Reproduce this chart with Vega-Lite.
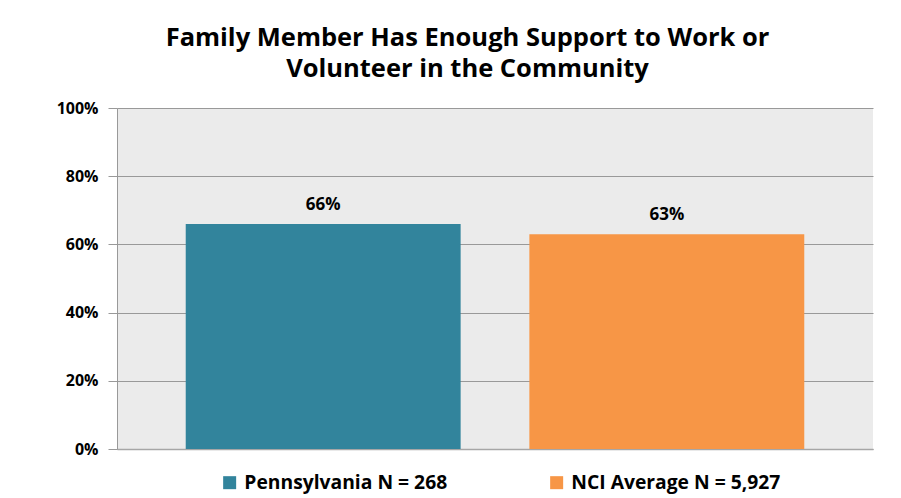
{
  "$schema": "https://vega.github.io/schema/vega-lite/v6.json",
  "width": 756,
  "height": 341,
  "autosize": {"type": "none"},
  "padding": {"left": 117, "top": 108, "right": 28, "bottom": 49},
  "background": "white",
  "title": {
    "text": ["Family Member Has Enough Support to Work or", "Volunteer in the Community"],
    "font": "Open Sans",
    "fontWeight": "bold",
    "fontSize": 25.5,
    "lineHeight": 31,
    "color": "#000000",
    "anchor": "middle",
    "dx": -27.5,
    "offset": 18
  },
  "data": {
    "values": [
      {"group": "Pennsylvania N = 268", "value": 0.66, "label": "66%"},
      {"group": "NCI Average N = 5,927", "value": 0.63, "label": "63%"}
    ]
  },
  "encoding": {
    "x": {
      "field": "group",
      "type": "nominal",
      "sort": null,
      "scale": {"paddingInner": 0.2, "paddingOuter": 0.2},
      "axis": {"labels": false, "ticks": false, "title": null, "domainColor": "#a6a6a6", "domainWidth": 1.5}
    },
    "y": {
      "field": "value",
      "type": "quantitative",
      "scale": {"domain": [0, 1]},
      "axis": {
        "format": ".0%",
        "values": [0, 0.2, 0.4, 0.6, 0.8, 1],
        "title": null,
        "labelFont": "Open Sans",
        "labelFontWeight": "bold",
        "labelFontSize": 16,
        "labelColor": "#000000",
        "labelPadding": 10,
        "tickSize": 9,
        "tickColor": "#999999",
        "domainColor": "#999999",
        "gridColor": "#999999",
        "gridWidth": 1
      }
    }
  },
  "layer": [
    {
      "mark": {"type": "bar"},
      "encoding": {
        "color": {
          "field": "group",
          "type": "nominal",
          "sort": null,
          "scale": {"range": ["#32849c", "#f79646"]},
          "legend": {
            "orient": "none",
            "legendX": 103,
            "legendY": 365,
            "direction": "horizontal",
            "title": null,
            "symbolType": "square",
            "symbolSize": 169,
            "symbolStrokeWidth": 0,
            "labelFont": "Open Sans",
            "labelFontWeight": "bold",
            "labelFontSize": 19.3,
            "labelColor": "#000000",
            "columnPadding": 99,
            "labelOffset": 5,
            "labelLimit": 400
          }
        }
      }
    },
    {
      "mark": {"type": "text", "baseline": "bottom", "dy": -10, "font": "Open Sans", "fontWeight": "bold", "fontSize": 17, "color": "#000000"},
      "encoding": {"text": {"field": "label"}}
    }
  ],
  "config": {
    "view": {"fill": "#ebebeb", "stroke": null}
  }
}
